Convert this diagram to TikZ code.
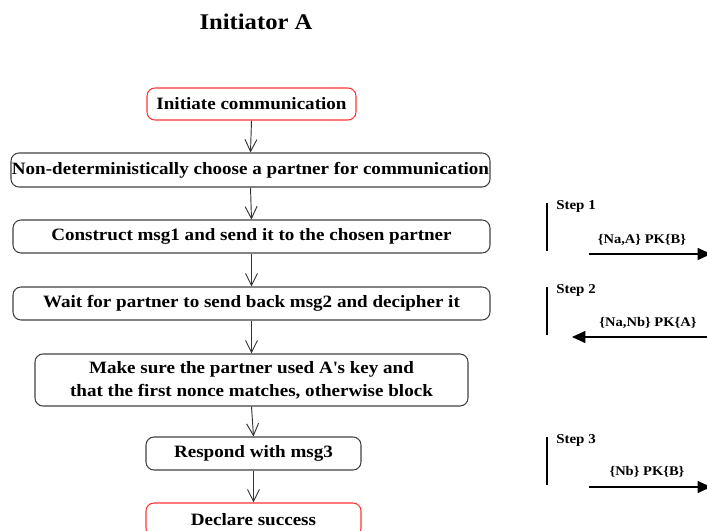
\documentclass[tikz,border=0pt]{standalone}
\usepackage{fontspec}
\setmainfont{Liberation Serif}[FakeStretch=1.1]
\usetikzlibrary{arrows.meta}
\tikzset{
  px/.style={x=0.75pt,y=-0.75pt},
  stepbox/.style={draw=black!75,line width=0.8pt,rounded corners=6pt,inner sep=0pt,
    align=center,font=\fontsize{13}{17}\selectfont\bfseries},
  endbox/.style={stepbox,draw=red!80},
  flow/.style={draw=black!80,line width=0.7pt,-{Straight Barb[length=9pt,width=9pt,line width=0.7pt]}},
  msg/.style={draw=black,line width=0.8pt,-{Triangle[length=10pt,width=9pt]}},
  steplabel/.style={font=\fontsize{10.2}{12}\selectfont\bfseries,anchor=west,inner sep=0pt},
  msglabel/.style={font=\fontsize{9.9}{12}\selectfont\bfseries,inner sep=0pt},
  bar/.style={draw=black,line width=0.8pt}
}
\begin{document}
\begin{tikzpicture}[px]
\useasboundingbox (0,0) rectangle (707,531);

% title
\node[font=\fontsize{16.8}{20}\selectfont\bfseries] (title) at (256,22) {Initiator A};

% flow of the initiator
\node[endbox,minimum width=209*0.75pt,minimum height=32*0.75pt] (s1) at (251.5,104) {Initiate communication};
\node[stepbox,minimum width=479*0.75pt,minimum height=34*0.75pt] (s2) at (250.5,170) {Non-deterministically choose a partner for communication};
\node[stepbox,minimum width=477*0.75pt,minimum height=33*0.75pt] (s3) at (251.5,236.5) {Construct msg1 and send it to the chosen partner};
\node[stepbox,minimum width=477*0.75pt,minimum height=33*0.75pt] (s4) at (251.5,303.5) {Wait for partner to send back msg2 and decipher it};
\node[stepbox,minimum width=433*0.75pt,minimum height=52*0.75pt] (s5) at (251.5,380) {Make sure the partner used A\textquotesingle s key and\\that the first nonce matches, otherwise block};
\node[stepbox,minimum width=215*0.75pt,minimum height=33*0.75pt] (s6) at (253.5,453.5) {Respond with msg3};
\node[endbox,minimum width=215*0.75pt,minimum height=33*0.75pt] (s7) at (253.5,519.5) {Declare success};

\draw[flow] (s1.south) -- (s2.north);
\draw[flow] (s2.south) -- (s3.north);
\draw[flow] (s3.south) -- (s4.north);
\draw[flow] (s4.south) -- (s5.north);
\draw[flow] (s5.south) -- (s6.north);
\draw[flow] (s6.south) -- (s7.north);

% message steps
\coordinate (b1t) at (547,203); \coordinate (b1b) at (547,251);
\coordinate (b2t) at (547,287); \coordinate (b2b) at (547,335);
\coordinate (b3t) at (547,437); \coordinate (b3b) at (547,485);
\draw[bar] (b1t) -- (b1b);
\draw[bar] (b2t) -- (b2b);
\draw[bar] (b3t) -- (b3b);

\node[steplabel] (st1) at (556,206) {Step 1};
\node[steplabel] (st2) at (556,290) {Step 2};
\node[steplabel] (st3) at (556,440) {Step 3};

\coordinate (m1a) at (589,254);   \coordinate (m1b) at (711,254);
\coordinate (m2a) at (707,337);   \coordinate (m2b) at (572,337);
\coordinate (m3a) at (589,487);   \coordinate (m3b) at (711,487);
\draw[msg] (m1a) -- (m1b);
\draw[msg] (m2a) -- (m2b);
\draw[msg] (m3a) -- (m3b);

\node[msglabel] (l1) at (642,240) {\{Na,A\} PK\{B\}};
\node[msglabel] (l2) at (648,323) {\{Na,Nb\} PK\{A\}};
\node[msglabel] (l3) at (647,472) {\{Nb\} PK\{B\}};
\end{tikzpicture}
\end{document}
